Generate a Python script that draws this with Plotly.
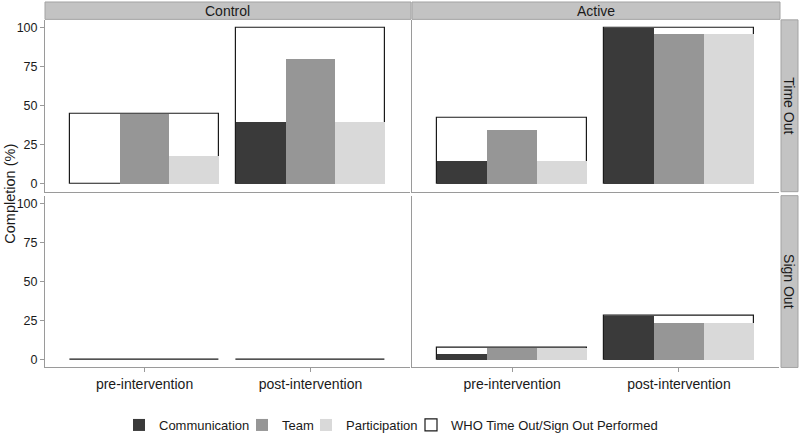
import plotly.graph_objects as go
from plotly.subplots import make_subplots

phases = ["pre-intervention", "post-intervention"]
arms = ["Control", "Active"]
checklists = ["Time Out", "Sign Out"]
series_names = ["Communication", "Team", "Participation"]
who_name = "WHO Time Out/Sign Out Performed"

# Completion (%) per phase [pre, post]
who_time_out = {"Control": [45, 100], "Active": [42.5, 100]}
communication_time_out = {"Control": [0, 40], "Active": [15, 100]}
team_time_out = {"Control": [45, 80], "Active": [34.6, 96.2]}
participation_time_out = {"Control": [18.2, 40], "Active": [15, 96.2]}

who_sign_out = {"Control": [0, 0], "Active": [7.7, 28]}
communication_sign_out = {"Control": [0, 0], "Active": [3.8, 28]}
team_sign_out = {"Control": [0, 0], "Active": [7.7, 24]}
participation_sign_out = {"Control": [0, 0], "Active": [7.7, 24]}

colors = {"Communication": "#3a3a3a", "Team": "#969696", "Participation": "#d9d9d9"}

data = {
    "Time Out": {"who": who_time_out, "Communication": communication_time_out,
                 "Team": team_time_out, "Participation": participation_time_out},
    "Sign Out": {"who": who_sign_out, "Communication": communication_sign_out,
                 "Team": team_sign_out, "Participation": participation_sign_out},
}

fig = make_subplots(rows=2, cols=2, horizontal_spacing=0.01, vertical_spacing=0.01)

W = 800.0
H = 440.0
col_px = [(45, 410), (412, 779)]
row_px = [(20, 193), (197, 370)]

dodge = 0.9
bw = dodge / 3
FONT = "Liberation Sans, Arial"
TXT = "#1a1a1a"

legend_ids = {"Communication": "legend", "Team": "legend2",
              "Participation": "legend3", who_name: "legend4"}
legend_text_x = {"legend": 160, "legend2": 283, "legend3": 347, "legend4": 452}

for r, chk in enumerate(checklists, start=1):
    for c, arm in enumerate(arms, start=1):
        first = (r == 1 and c == 1)
        d = data[chk]
        fig.add_trace(go.Bar(
            x=phases, y=d["who"][arm], name=who_name,
            width=dodge, offset=-dodge / 2,
            marker=dict(color="white", line=dict(color="#1a1a1a", width=1.2)),
            showlegend=first, legend=legend_ids[who_name], hoverinfo="skip",
        ), row=r, col=c)
        for i, s in enumerate(series_names):
            fig.add_trace(go.Bar(
                x=phases, y=d[s][arm], name=s,
                width=bw, offset=-dodge / 2 + i * bw,
                marker=dict(color=colors[s], line=dict(width=0)),
                showlegend=first, legend=legend_ids[s],
            ), row=r, col=c)

axis_gray = "#9a9a9a"
for r in (1, 2):
    for c in (1, 2):
        k = (r - 1) * 2 + c
        xa = "xaxis" if k == 1 else "xaxis%d" % k
        ya = "yaxis" if k == 1 else "yaxis%d" % k
        x0, x1 = col_px[c - 1]
        y0, y1 = row_px[r - 1]
        fig.layout[xa].update(
            domain=[x0 / W, x1 / W], type="category", range=[-0.6, 1.6],
            showline=True, linecolor=axis_gray, linewidth=1, mirror=False,
            showgrid=False, zeroline=False,
            ticks="outside" if r == 2 else "", ticklen=4, tickcolor=axis_gray,
            showticklabels=(r == 2),
            tickfont=dict(family=FONT, size=14, color=TXT),
        )
        fig.layout[ya].update(
            domain=[(H - y1) / H, (H - y0) / H], range=[-5, 105],
            tickvals=[0, 25, 50, 75, 100],
            showline=True, linecolor=axis_gray, linewidth=1,
            showgrid=False, zeroline=False,
            ticks="outside" if c == 1 else "", ticklen=4, tickcolor=axis_gray,
            showticklabels=(c == 1),
            tickfont=dict(family=FONT, size=12.5, color=TXT),
        )

shapes = []
annotations = []
strip_fill = "#c3c3c3"
strip_line = "#a3a3a3"
for c, arm in enumerate(arms):
    x0, x1 = col_px[c]
    shapes.append(dict(type="rect", xref="paper", yref="paper",
                       x0=x0 / W, x1=(x1 + 1) / W, y0=(H - 19.5) / H, y1=(H - 2) / H,
                       fillcolor=strip_fill, line=dict(color=strip_line, width=1), layer="below"))
    annotations.append(dict(text=arm, xref="paper", yref="paper",
                            x=(x0 + x1) / 2 / W, y=(H - 11) / H, showarrow=False,
                            xanchor="center", yanchor="middle",
                            font=dict(family=FONT, size=14, color=TXT)))
for r, chk in enumerate(checklists):
    y0, y1 = row_px[r]
    shapes.append(dict(type="rect", xref="paper", yref="paper",
                       x0=781 / W, x1=798 / W, y0=(H - y1) / H, y1=(H - y0) / H,
                       fillcolor=strip_fill, line=dict(color=strip_line, width=1), layer="below"))
    annotations.append(dict(text=chk, xref="paper", yref="paper",
                            x=789.5 / W, y=(H - (y0 + y1) / 2) / H, showarrow=False, textangle=90,
                            xanchor="center", yanchor="middle",
                            font=dict(family=FONT, size=14, color=TXT)))

annotations.append(dict(text="Completion (%)", xref="paper", yref="paper",
                        x=10 / W, y=(H - 195) / H, showarrow=False, textangle=-90,
                        xanchor="center", yanchor="middle",
                        font=dict(family=FONT, size=14.5, color=TXT)))

legend_common = dict(orientation="h", yanchor="middle", y=(H - 428) / H, xanchor="left",
                     font=dict(family=FONT, size=13, color=TXT),
                     bgcolor="rgba(0,0,0,0)", borderwidth=0, itemwidth=30)
legend_layouts = {}
for lid, tx in legend_text_x.items():
    legend_layouts[lid] = dict(legend_common, x=(tx - 41) / W)

fig.update_layout(
    width=800, height=440,
    margin=dict(l=0, r=0, t=0, b=0),
    paper_bgcolor="white", plot_bgcolor="white",
    barmode="overlay", bargap=0,
    shapes=shapes, annotations=annotations,
    font=dict(family=FONT, color=TXT),
    **legend_layouts,
)

fig.write_html("out.html", config={"displayModeBar": False},
               post_script="document.body.style.margin='0px';")
